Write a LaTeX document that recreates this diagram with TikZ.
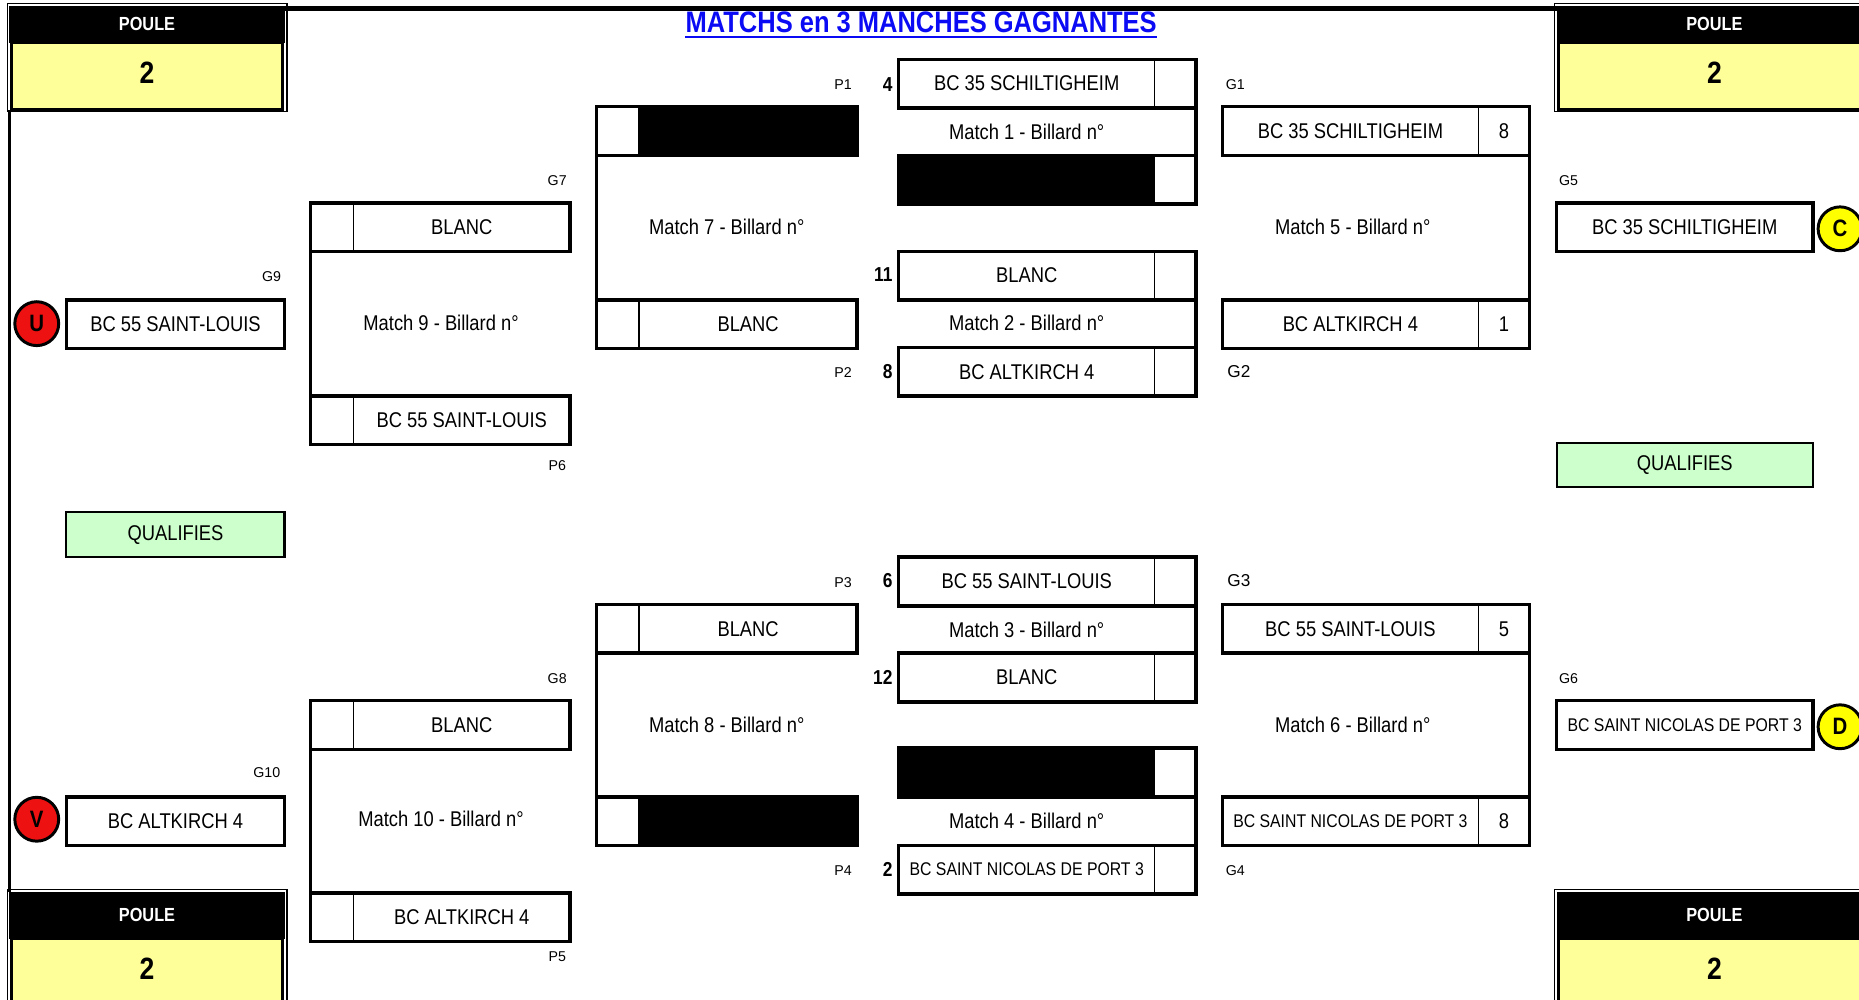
\documentclass[tikz,border=0pt]{standalone}
\usepackage{fontspec}
\setmainfont{Liberation Sans}
\newfontfamily\cs[FakeStretch=0.86]{Liberation Sans}
\definecolor{pyellow}{HTML}{FFFF99}
\definecolor{qgreen}{HTML}{CCFFCC}
\definecolor{tblue}{HTML}{0A0AF5}
\definecolor{cred}{HTML}{EE1111}
\definecolor{cyel}{HTML}{FFFF00}
\newcommand\mkslotL[7]{%
  \node[cellbase, minimum width=#4pt] (#1s) at (#2,#3) {};
  \node[cellbase, minimum width=#5pt, #6] (#1) at (#1s.north east) {#7};
  \draw[outline] (#1s.north west) rectangle (#1.south east);}
\newcommand\mkslotR[8]{%
  \node[cellbase, minimum width=#4pt, #6] (#1) at (#2,#3) {#7};
  \node[cellbase, minimum width=#5pt] (#1s) at (#1.north east) {#8};
  \draw[outline] (#1.north west) rectangle (#1s.south east);}
\newcommand\mkpoule[8]{%
  \draw[line width=1pt] (#2-2,#4-2) rectangle (#3+2,#6+2);
  \fill[black] (#2,#4) rectangle (#3,#5);
  \filldraw[fill=pyellow, draw=black, line width=2.5pt] (#2+1.5,#5) rectangle (#3-1.5,#6);
  \node[ptitle] (#1h) at (#7,{(#4+#5)/2}) {POULE};
  \node[pnum] (#1n) at (#7,#8) {2};}
\tikzset{
  cellbase/.style={draw, line width=1.2pt, inner sep=0pt, outer sep=0pt, minimum height=41pt, anchor=north west, font=\cs\fontsize{18}{20}\selectfont},
  blk/.style={fill=black},
  smalltxt/.style={font=\cs\fontsize{15.5}{18}\selectfont},
  outline/.style={draw, line width=3pt},
  single/.style={draw, line width=3pt, inner sep=0pt, outer sep=0pt, minimum height=41pt, anchor=north west, font=\cs\fontsize{18}{20}\selectfont},
  bline/.style={line width=3pt},
  lab/.style={font=\fontsize{12}{14}\selectfont, inner sep=0pt},
  labbig/.style={font=\fontsize{14.5}{16}\selectfont, inner sep=0pt},
  num/.style={font=\cs\bfseries\fontsize{17}{20}\selectfont, inner sep=0pt, anchor=east},
  mlab/.style={font=\cs\fontsize{18}{20}\selectfont, inner sep=0pt},
  circ/.style={circle, draw, line width=2.5pt, minimum size=37pt, inner sep=0pt, text=black, font=\cs\bfseries\fontsize{20}{22}\selectfont},
  qual/.style={draw, line width=1.8pt, fill=qgreen, inner sep=0pt, outer sep=0pt, anchor=north west, font=\cs\fontsize{18}{20}\selectfont},
  ptitle/.style={text=white, font=\cs\bfseries\fontsize{16}{18}\selectfont, inner sep=0pt},
  pnum/.style={font=\cs\bfseries\fontsize{26}{28}\selectfont, inner sep=0pt},
  ttl/.style={text=tblue, font=\cs\bfseries\fontsize{25}{28}\selectfont, inner sep=0pt},
}
\begin{document}
\begin{tikzpicture}[x=1pt,y=-1pt]
\useasboundingbox (0,0) rectangle (1568,843);
\clip (0,0) rectangle (1568,843);
\fill[white] (0,0) rectangle (1568,843);
% frame lines
\draw[line width=4pt] (240,7) -- (1313,7);
\draw[line width=3pt] (8,93) -- (8,752);
% poule boxes
\mkpoule{pa}{8}{240}{5}{36}{92}{124}{61}
\mkpoule{pb}{1313}{1580}{5}{36}{92}{1446}{61}
\mkpoule{pc}{8}{240}{752}{792}{850}{124}{817}
\mkpoule{pd}{1313}{1580}{752}{792}{850}{1446}{817}
% title
\node[ttl] (title) at (777,19) {MATCHS en 3 MANCHES GAGNANTES};
\draw[tblue, line width=2pt] ([yshift=-3.5pt]title.base west) -- ([yshift=-3.5pt]title.base east);
% column 2
\mkslotL{m9a}{262}{171}{36}{183}{}{BLANC}
\mkslotL{m9b}{262}{334}{36}{183}{}{BC 55 SAINT-LOUIS}
\mkslotL{m10a}{262}{591}{36}{183}{}{BLANC}
\mkslotL{m10b}{262}{753}{36}{183}{}{BC ALTKIRCH 4}
% column 3
\mkslotL{m7a}{503}{90}{36}{184}{blk}{}
\mkslotL{m7b}{503}{253}{36}{184}{}{BLANC}
\mkslotL{m8a}{503}{510}{36}{184}{}{BLANC}
\mkslotL{m8b}{503}{672}{36}{184}{blk}{}
% column 4
\mkslotR{m1a}{758}{50}{216}{35}{}{BC 35 SCHILTIGHEIM}{}
\mkslotR{m1b}{758}{131}{216}{35}{blk}{}{}
\mkslotR{m2a}{758}{212}{216}{35}{}{BLANC}{}
\mkslotR{m2b}{758}{293}{216}{35}{}{BC ALTKIRCH 4}{}
\mkslotR{m3a}{758}{470}{216}{35}{}{BC 55 SAINT-LOUIS}{}
\mkslotR{m3b}{758}{551}{216}{35}{}{BLANC}{}
\mkslotR{m4a}{758}{631}{216}{35}{blk}{}{}
\mkslotR{m4b}{758}{713}{216}{35}{smalltxt}{BC SAINT NICOLAS DE PORT 3}{}
% column 5
\mkslotR{m5a}{1031}{90}{216}{43}{}{BC 35 SCHILTIGHEIM}{8}
\mkslotR{m5b}{1031}{253}{216}{43}{}{BC ALTKIRCH 4}{1}
\mkslotR{m6a}{1031}{510}{216}{43}{}{BC 55 SAINT-LOUIS}{5}
\mkslotR{m6b}{1031}{672}{216}{43}{smalltxt}{BC SAINT NICOLAS DE PORT 3}{8}
% brackets
\draw[bline] (m9as.south west) -- (m9bs.north west);
\draw[bline] (m10as.south west) -- (m10bs.north west);
\draw[bline] (m7as.south west) -- (m7bs.north west);
\draw[bline] (m8as.south west) -- (m8bs.north west);
\draw[bline] (m1as.south east) -- (m1bs.north east);
\draw[bline] (m2as.south east) -- (m2bs.north east);
\draw[bline] (m3as.south east) -- (m3bs.north east);
\draw[bline] (m4as.south east) -- (m4bs.north east);
\draw[bline] (m5as.south east) -- (m5bs.north east);
\draw[bline] (m6as.south east) -- (m6bs.north east);
% match labels
\node[mlab] (ml1) at (866,111) {Match 1 - Billard n°};
\node[mlab] (ml2) at (866,272) {Match 2 - Billard n°};
\node[mlab] (ml3) at (866,531) {Match 3 - Billard n°};
\node[mlab] (ml4) at (866,692) {Match 4 - Billard n°};
\node[mlab] (ml5) at (1141,191) {Match 5 - Billard n°};
\node[mlab] (ml6) at (1141,611) {Match 6 - Billard n°};
\node[mlab] (ml7) at (613,191) {Match 7 - Billard n°};
\node[mlab] (ml8) at (613,611) {Match 8 - Billard n°};
\node[mlab] (ml9) at (372,272) {Match 9 - Billard n°};
\node[mlab] (ml10) at (372,691) {Match 10 - Billard n°};
% column 1
\node[single, minimum width=184pt] (w9) at (56,253) {BC 55 SAINT-LOUIS};
\node[single, minimum width=184pt] (w10) at (56,672) {BC ALTKIRCH 4};
\node[qual, minimum width=184pt, minimum height=38pt] (q1) at (56,432) {QUALIFIES};
% column 6
\node[single, minimum width=216pt] (w5) at (1313,171) {BC 35 SCHILTIGHEIM};
\node[single, minimum width=216pt, smalltxt] (w6) at (1313,591) {BC SAINT NICOLAS DE PORT 3};
\node[qual, minimum width=216pt, minimum height=37pt] (q2) at (1313,374) {QUALIFIES};
% circles
\node[circ, fill=cred] (cu) at (31,273) {U};
\node[circ, fill=cred] (cv) at (31,691) {V};
\node[circ, fill=cyel] (cc) at (1552,193) {C};
\node[circ, fill=cyel] (cd) at (1552,613) {D};
% seed numbers
\node[num] (n1) at (753,71) {4};
\node[num] (n2) at (753,232) {11};
\node[num] (n3) at (753,313) {8};
\node[num] (n4) at (753,490) {6};
\node[num] (n5) at (753,571) {12};
\node[num] (n6) at (753,733) {2};
% small labels
\node[lab] (lp1) at (711,71) {P1};
\node[lab] (lp2) at (711,314) {P2};
\node[lab] (lp3) at (711,491) {P3};
\node[lab] (lp4) at (711,734) {P4};
\node[lab] (lg7) at (470,152) {G7};
\node[lab] (lp6) at (470,393) {P6};
\node[lab] (lg8) at (470,572) {G8};
\node[lab] (lp5) at (470,807) {P5};
\node[lab] (lg9) at (229,233) {G9};
\node[lab] (lg10) at (225,652) {G10};
\node[lab] (lg1) at (1042,71) {G1};
\node[labbig] (lg2) at (1045,313) {G2};
\node[labbig] (lg3) at (1045,490) {G3};
\node[lab] (lg4) at (1042,734) {G4};
\node[lab] (lg5) at (1323,152) {G5};
\node[lab] (lg6) at (1323,572) {G6};
\end{tikzpicture}
\end{document}
